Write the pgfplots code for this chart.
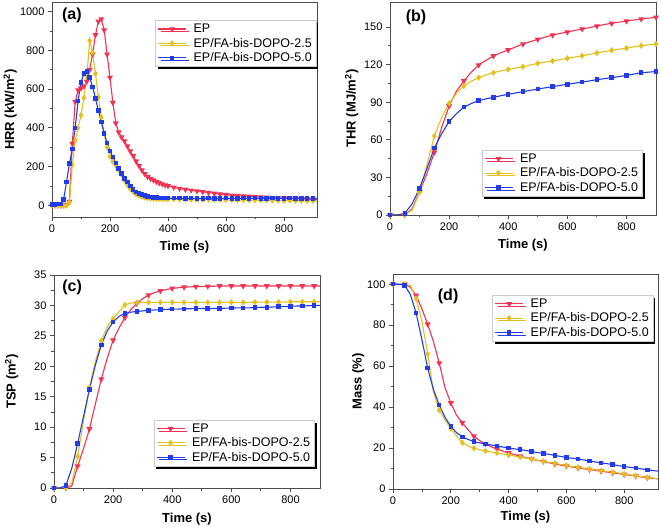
\documentclass[border=0pt]{standalone}
\usepackage{fontspec}
\setmainfont{Liberation Sans}
\usepackage{pgfplots}
\pgfplotsset{compat=1.18}
\usetikzlibrary{shadows}
\definecolor{cred}{RGB}{242,50,82}
\definecolor{cyel}{RGB}{228,192,30}
\definecolor{cblu}{RGB}{35,60,235}
\newcommand{\lf}{\fontsize{12.5bp}{14bp}\selectfont}
\pgfplotsset{
  panel/.style={
    scale only axis,
    axis line style={black!70, line width=0.8bp},
    tick pos=left, tick align=outside,
    major tick length=4bp, minor tick length=2.5bp,
    tick style={black!70, line width=0.8bp},
    /pgf/number format/assume math mode=true,
    /pgf/number format/1000 sep={},
    ticklabel style={font=\fontsize{11bp}{13bp}\selectfont},
    label style={font=\fontsize{13bp}{15bp}\selectfont\bfseries},
    xlabel={Time (s)},
    xmin=0,
    xtick={0,200,400,600,800}, minor x tick num=1, minor y tick num=1,
    scaled ticks=false,
    legend cell align=left,
    legend style={draw=gray!40, fill=white,
      drop shadow={shadow xshift=2.5bp, shadow yshift=-2.5bp, fill=black, opacity=1},
      inner xsep=2bp, inner ysep=1.5bp, row sep=0bp, anchor=north west,
      /tikz/every odd column/.append style={column sep=5bp}},
    legend image code/.code={\draw[mark repeat=2,mark phase=2,##1] plot coordinates {(0bp,0bp) (14bp,0bp) (28bp,0bp)};},
  },
  sEP/.style={cred, line width=1.1bp, mark=triangle*, mark size=2.4bp, mark options={rotate=180, solid}},
  sY/.style={cyel, line width=1.1bp, mark=diamond*, mark size=2.3bp, mark options={solid}},
  sB/.style={cblu, line width=1.1bp, mark=square*, mark size=1.7bp, mark options={solid}},
}
\begin{document}
\begin{tikzpicture}
\useasboundingbox (0,0) rectangle (661bp,528bp);
% (a) HRR
\begin{axis}[panel, at={(52bp,311bp)}, anchor=south west, width=265bp, height=215bp,
  xmax=914, ymin=-60, ymax=1050, ytick={0,200,400,600,800,1000},
  ylabel={HRR (kW/m\textsuperscript{2})},
  ylabel style={at={(axis description cs:-0.158,0.5)}, anchor=center},
  xlabel style={at={(axis description cs:0.5,-0.14)}, anchor=center},
  legend style={at={(rel axis cs:0.39,0.915)}}]
\addplot[sEP] coordinates {(0,0)(10,0)(20,0)(30,0)(40,2)(50,5)(60,20)(70,320)(80,535)(90,595)(100,605)(110,615)(120,640)(130,700)(140,780)(150,880)(160,950)(170,962)(180,905)(190,780)(200,660)(210,530)(220,425)(230,378)(240,352)(250,332)(260,306)(270,280)(280,255)(290,228)(300,205)(310,182)(320,162)(330,148)(340,138)(350,130)(360,122)(370,116)(380,110)(390,105)(400,101)(420,93)(440,87)(460,82)(480,78)(500,74)(520,70)(540,66)(560,62)(580,58)(600,55)(620,52)(640,50)(660,48)(680,46)(700,44)(720,42)(740,41)(760,40)(780,38)(800,37)(820,36)(840,34)(860,33)(880,32)(900,30)(920,29)};
\addplot[sY] coordinates {(0,0)(10,0)(20,0)(30,0)(40,-2)(50,-2)(60,15)(70,210)(80,335)(90,400)(100,465)(110,555)(120,665)(130,850)(140,790)(150,680)(160,560)(170,455)(180,370)(190,300)(200,252)(210,225)(220,205)(230,183)(240,158)(250,130)(260,105)(270,85)(280,70)(290,58)(300,50)(310,44)(320,40)(330,38)(340,36)(350,35)(360,34)(370,33)(380,33)(390,32)(400,32)(420,32)(440,31)(460,31)(480,30)(500,30)(520,30)(540,30)(560,29)(580,29)(600,29)(620,28)(640,28)(660,28)(680,27)(700,27)(720,27)(740,26)(760,26)(780,26)(800,25)(820,25)(840,24)(860,24)(880,23)(900,23)(920,22)};
\addplot[sB] coordinates {(0,5)(10,5)(20,6)(30,8)(40,30)(50,120)(60,215)(70,290)(80,400)(90,540)(100,635)(110,680)(120,690)(130,660)(140,612)(150,552)(160,490)(170,430)(180,372)(190,322)(200,282)(210,250)(220,220)(230,190)(240,165)(250,140)(260,120)(270,100)(280,82)(290,70)(300,62)(310,55)(320,50)(330,46)(340,43)(350,41)(360,40)(370,39)(380,38)(390,38)(400,37)(420,37)(440,37)(460,36)(480,37)(500,36)(520,36)(540,37)(560,36)(580,36)(600,37)(620,36)(640,36)(660,37)(680,36)(700,37)(720,36)(740,36)(760,37)(780,36)(800,36)(820,37)(840,36)(860,36)(880,36)(900,36)(920,35)};
\legend{\lf EP,\lf EP/FA-bis-DOPO-2.5,\lf EP/FA-bis-DOPO-5.0}
\node[font=\fontsize{16bp}{18bp}\selectfont\bfseries] at (rel axis cs:0.075,0.94) {(a)};
\end{axis}
% (b) THR
\begin{axis}[panel, at={(390bp,313bp)}, anchor=south west, width=266bp, height=213bp,
  xmax=900, ymin=0, ymax=170, ytick={0,30,60,90,120,150},
  ylabel={THR (MJ/m\textsuperscript{2})},
  ylabel style={at={(axis description cs:-0.144,0.5)}, anchor=center},
  xlabel style={at={(axis description cs:0.5,-0.141)}, anchor=center},
  legend style={at={(rel axis cs:0.345,0.305)}}]
\addplot[sEP, mark repeat=2] coordinates {(0,0)(25,0)(50,0)(75,5)(100,18.6)(125,33)(150,50)(175,70)(200,87)(225,99)(250,107)(275,114)(300,119.7)(325,123.5)(350,126.9)(375,129.5)(400,131.7)(425,134.2)(450,136.4)(475,138.4)(500,140.2)(525,142)(550,143.6)(575,144.9)(600,146)(625,147.3)(650,148.4)(675,149.6)(700,150.8)(725,152)(750,153)(775,153.9)(800,154.8)(825,155.6)(850,156.4)(875,157.1)(900,157.8)};
\addplot[sY, mark repeat=2] coordinates {(0,0)(25,0)(50,0)(75,4)(100,18)(125,40)(150,63)(175,78)(200,89)(225,97)(250,103)(275,106.8)(300,109.6)(325,111.8)(350,113.6)(375,115)(400,116.2)(425,117.3)(450,118.3)(475,119.7)(500,121)(525,122)(550,122.9)(575,124)(600,125)(625,126)(650,127.1)(675,128.2)(700,129.3)(725,130.4)(750,131.4)(775,132.3)(800,133.2)(825,134.2)(850,135.1)(875,135.8)(900,136.5)};
\addplot[sB, mark repeat=2] coordinates {(0,0)(25,0)(50,1.3)(75,9)(100,21.3)(125,37)(150,53.5)(175,65)(200,74.5)(225,81)(250,86)(275,89)(300,91.2)(325,92.7)(350,93.9)(375,95.2)(400,96.3)(425,97.4)(450,98.4)(475,99.5)(500,100.5)(525,101.5)(550,102.4)(575,103.4)(600,104.3)(625,105.2)(650,106.1)(675,107)(700,108)(725,108.8)(750,109.6)(775,110.5)(800,111.4)(825,112.5)(850,113.6)(875,114)(900,114.5)};
\legend{\lf EP,\lf EP/FA-bis-DOPO-2.5,\lf EP/FA-bis-DOPO-5.0}
\node[font=\fontsize{16bp}{18bp}\selectfont\bfseries] at (rel axis cs:0.098,0.93) {(b)};
\end{axis}
% (c) TSP
\begin{axis}[panel, at={(54bp,40bp)}, anchor=south west, width=266bp, height=213bp,
  xmax=900, ymin=0, ymax=35, ytick={0,5,10,15,20,25,30,35},
  ylabel={TSP (m\textsuperscript{2})},
  ylabel style={at={(axis description cs:-0.159,0.5)}, anchor=center},
  xlabel style={at={(axis description cs:0.5,-0.146)}, anchor=center},
  legend style={at={(rel axis cs:0.375,0.32)}}]
\addplot[sEP, mark repeat=2] coordinates {(0,0)(20,0)(40,0)(60,0.3)(80,3.6)(100,6.5)(120,9.7)(140,13.8)(160,17.9)(180,21.3)(200,24.3)(220,26.3)(240,28)(260,29.3)(280,30.3)(300,31.1)(320,31.7)(340,32.1)(360,32.4)(380,32.6)(400,32.8)(420,32.9)(440,33)(460,33.05)(480,33.1)(500,33.1)(520,33.15)(540,33.15)(560,33.2)(580,33.2)(600,33.2)(620,33.2)(640,33.2)(660,33.2)(680,33.2)(700,33.2)(720,33.2)(740,33.2)(760,33.2)(780,33.2)(800,33.2)(820,33.2)(840,33.2)(860,33.2)(880,33.2)(900,33.2)};
\addplot[sY, mark repeat=2] coordinates {(0,0)(20,0)(40,0)(60,0.8)(80,5.2)(100,11)(120,16.5)(140,20.8)(160,24.2)(180,26.5)(200,27.8)(220,29)(240,30.1)(260,30.4)(280,30.5)(300,30.5)(320,30.5)(340,30.5)(360,30.5)(380,30.5)(400,30.5)(420,30.5)(440,30.5)(460,30.5)(480,30.5)(500,30.5)(520,30.5)(540,30.5)(560,30.5)(580,30.5)(600,30.5)(620,30.5)(640,30.5)(660,30.5)(680,30.55)(700,30.55)(720,30.55)(740,30.55)(760,30.55)(780,30.55)(800,30.6)(820,30.6)(840,30.6)(860,30.6)(880,30.6)(900,30.6)};
\addplot[sB, mark repeat=2] coordinates {(0,0)(20,0)(40,0.4)(60,3.2)(80,7.3)(100,11.8)(120,16.2)(140,20.2)(160,23.5)(180,25.8)(200,27.3)(220,28.2)(240,28.7)(260,28.9)(280,29)(300,29.1)(320,29.2)(340,29.25)(360,29.3)(380,29.35)(400,29.4)(420,29.4)(440,29.45)(460,29.45)(480,29.5)(500,29.5)(520,29.5)(540,29.5)(560,29.5)(580,29.55)(600,29.55)(620,29.6)(640,29.6)(660,29.6)(680,29.65)(700,29.7)(720,29.7)(740,29.75)(760,29.8)(780,29.8)(800,29.85)(820,29.9)(840,29.9)(860,29.95)(880,30)(900,30)};
\legend{\lf EP,\lf EP/FA-bis-DOPO-2.5,\lf EP/FA-bis-DOPO-5.0}
\node[font=\fontsize{16bp}{18bp}\selectfont\bfseries] at (rel axis cs:0.068,0.944) {(c)};
\end{axis}
% (d) Mass
\begin{axis}[panel, at={(393bp,39bp)}, anchor=south west, width=265bp, height=215bp,
  xmax=917, ymin=0, ymax=105, ytick={0,20,40,60,80,100},
  ylabel={Mass (\%)},
  ylabel style={at={(axis description cs:-0.131,0.5)}, anchor=center},
  xlabel style={at={(axis description cs:0.5,-0.132)}, anchor=center},
  legend style={at={(rel axis cs:0.375,0.902)}}]
\addplot[sEP, mark repeat=2] coordinates {(0,100)(20,100)(40,100)(60,98.5)(80,94.5)(100,88)(120,80.5)(140,72)(160,61.5)(180,49.5)(200,42)(220,36)(240,32.3)(260,28.9)(280,25.8)(300,23.6)(320,22)(340,20.6)(360,19.5)(380,18.5)(400,17.6)(420,16.8)(440,16)(460,15.3)(480,14.6)(500,14)(520,13.4)(540,12.8)(560,12.2)(580,11.7)(600,11.2)(620,10.8)(640,10.3)(660,9.9)(680,9.5)(700,9.1)(720,8.7)(740,8.3)(760,7.9)(780,7.5)(800,7.1)(820,6.7)(840,6.3)(860,5.9)(880,5.5)(900,5.2)(920,4.9)};
\addplot[sY, mark repeat=2] coordinates {(0,100)(20,100)(40,100)(60,99.5)(80,93)(100,82)(120,66)(140,47.5)(160,38.5)(180,33.8)(200,29.5)(220,25.8)(240,22.6)(260,21)(280,19.9)(300,19.2)(320,18.6)(340,18.1)(360,17.6)(380,17.1)(400,16.6)(420,16.1)(440,15.6)(460,15.1)(480,14.6)(500,14)(520,13.5)(540,13)(560,12.5)(580,12)(600,11.5)(620,11)(640,10.6)(660,10.2)(680,9.8)(700,9.4)(720,9)(740,8.6)(760,8.2)(780,7.8)(800,7.3)(820,6.9)(840,6.5)(860,6.1)(880,5.7)(900,5.3)(920,5)};
\addplot[sB, mark repeat=2] coordinates {(0,100)(20,100)(40,99.5)(60,95)(80,86)(100,73)(120,59)(140,48.5)(160,41)(180,35)(200,30.5)(220,27.5)(240,25.5)(260,24.2)(280,23.2)(300,22.5)(320,22)(340,21.5)(360,21)(380,20.5)(400,20)(420,19.6)(440,19.2)(460,18.8)(480,18.3)(500,17.8)(520,17.4)(540,16.9)(560,16.4)(580,15.9)(600,15.4)(620,15)(640,14.6)(660,14.2)(680,13.7)(700,13.2)(720,12.8)(740,12.4)(760,11.9)(780,11.4)(800,11)(820,10.6)(840,10.2)(860,9.8)(880,9.4)(900,9)(920,8.7)};
\legend{\lf EP,\lf EP/FA-bis-DOPO-2.5,\lf EP/FA-bis-DOPO-5.0}
\node[font=\fontsize{16bp}{18bp}\selectfont\bfseries] at (rel axis cs:0.208,0.898) {(d)};
\end{axis}
\end{tikzpicture}
\end{document}
